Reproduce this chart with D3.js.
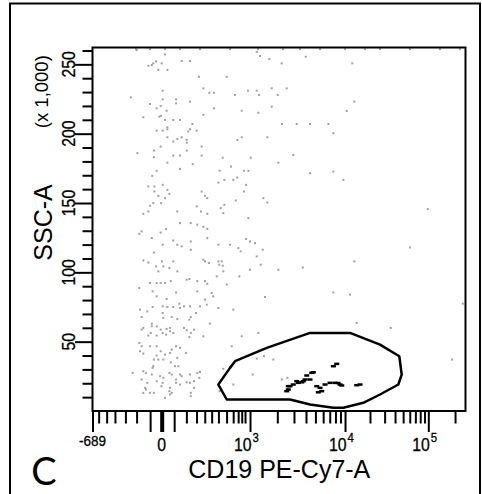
<!DOCTYPE html>
<html>
<head>
<meta charset="utf-8">
<script src="https://cdn.jsdelivr.net/npm/d3@7"></script>
<style>
  body { margin: 0; background: #fff; }
  svg { display: block; }
  text { font-family: "Liberation Sans", Arial, sans-serif; fill: #000; }
  .tick-label { stroke: #000; stroke-width: 0.3; }
</style>
</head>
<body>
<svg id="chart" width="482" height="494"></svg>
<script>
// ---- events: CD19 PE-Cy7-A (raw units) and SSC-A (x 1,000) ----
const eventsCd19 = [
  -129,12,-59,-42,-35,-23,0,-13,21,88,138,1191,1296,1640,2229,205,522,-174,3.5,3.5,
  59,59,138,242,300,351,664,948,1191,1264,1741,2021,2518,-51,-20,-4,18,-87,-9,-3,
  12,46,79,242,351,800,1241,1741,2245,-20,3.5,21,21,154,138,127,186,21,46,65,
  88,117,117,708,800,1560,-4,-32,-125,-32,46,79,117,227,227,21,79,157,463,1018,
  2051,-40,-20,420,486,592,633,708,852,956,899,852,404,-59,-30,3.5,21,29,-13,-30,
  -35,-51,12,-2,-87,-59,65,227,257,279,186,221,279,435,471,486,677,956,1410,1560,
  -112,-97,-42,-4,16,79,143,191,242,279,279,46,65,88,3.5,-32,143,143,404,575,
  728,778,899,1000,1140,1389,1191,-87,-59,-23,-13,1,5.6,29,46,65,242,257,297,404,
  449,416,463,471,384,522,749,1000,1320,2051,-112,-51,-20,-4,12,35,-38,-20,18,59,
  117,134,191,257,279,191,325,343,257,1472,-107,-97,-65,-38,3.5,21,46,75,79,101,
  138,181,213,274,404,633,3.5,39,65,5.6,143,134,-87,-97,-42,-42,-20,-4,18,32,
  32,3.5,-47,-59,-20,16,46,101,117,134,143,166,305,242,604,800,1241,-112,-97,-107,
  -87,-51,-20,-4,12,32,39,59,79,113,65,-20,-32,-13,5.6,35,54,70,-35,-38,
  -159,-87,-72,-42,-6,5.6,29,39,79,88,138,191,207,59,-20,3.5,-1,-97,-65,32,
  29,39,59,79,117,138,166,166,143,-32,-72,-87,-51,1073,2229,1812,1435,12,32,143,
  -77,12250,12960,10490,7620,7620,9620,4400,2950,3205,4400,6775,3975,98360,60400,12960,3700,7620,11500,13850,
  35500,185600,244500,633,1191,2555,420,471,213,
  -134,-51,12,79,213,575,1231,2300,3470,5575,10000,17400,26400,60400,135200,226300
];
const eventsSsc = [
  260.3,257.2,249,249.5,250.7,252.1,250.7,246,246,252.4,252.4,259,256,253.8,250.7,241,241,226.2,231,224.8,
  224.8,221.9,223.1,232.7,229.5,229.5,227.9,231,231,227.9,232.7,227.9,232.7,221.4,218.3,220,216.6,211.8,212.3,212.8,
  209.9,209.9,209.9,213.6,218.3,216.6,215.1,219.5,207,202.2,202.2,204.6,203.2,207,203.2,201.5,202.2,197.4,194.3,196.1,
  197.4,195.6,193.5,195.5,197.4,197.4,190.7,187.8,185.9,183,184.2,184.2,187.8,190.7,184.2,179.1,174.6,178,182.7,182.7,
  179.1,169.6,173.2,173.2,166.7,176.3,166.7,168.3,173.2,173.2,163.1,158.3,164.7,161.9,161.9,163.1,159.5,156.6,155.2,158.3,
  149.9,148,153.5,149.9,142.2,143.9,143.9,158.3,155.2,153.5,147.5,143.9,142.2,146.3,142.7,148.7,151.8,139.1,153.5,150.3,
  127.8,129.5,124.7,128.7,131.2,135.5,135.5,134.4,132.8,131.3,124.7,123,119.9,118.7,119.9,114.3,122.3,116.3,119.9,119.9,
  117.5,115.1,124,122.3,121.1,116.3,111.5,108.6,107.1,104.3,100.7,107.9,104.3,103.2,107.9,100.7,109.1,107.9,106.7,107.9,
  107.9,105.5,104.8,100.7,97.1,91.2,97.1,101.9,105.5,101.9,88.7,92.3,92.3,92.3,92.3,93.7,86.3,82.7,80.8,85.5,
  94.7,95.2,93.7,93.7,91.8,86.3,85.1,82.7,80.3,82.2,73.1,67.8,71.8,75,75.5,75,75,77.4,74.3,75.5,
  75.5,70.7,75.5,76.7,74.3,73.1,70.7,67.8,66.4,67.1,67.8,65.9,59.9,58.7,61.1,63,61.1,58.7,59.2,59.9,
  57.5,56.3,56.3,54.4,54.4,55.1,56.3,59.9,58.2,53.4,56.3,58.7,63,53.9,46.7,53.9,56.3,49.1,46.7,43.1,
  41.4,46.7,46.7,43.1,40.7,41.9,44.3,46.7,45.5,41.9,38.3,40,37.1,37.1,37.1,35.1,32.3,32.3,32.3,31.1,
  27.5,28.7,27.5,26.3,25.1,23.9,27.5,26.3,26.3,25.1,26.3,27.5,23.9,22.7,21.5,20.3,17.9,22.7,20.3,16.7,
  14.3,13.1,20.3,19.1,20.7,20.3,21.5,16.7,13.1,13.1,15.5,13.1,13.1,26.3,22.7,37.1,39.5,9.5,11.9,10.7,
  16.7,250.7,223.1,216.4,200.3,172.7,166.7,171.5,184.7,207,207,207,255.5,145.6,117.9,107.9,103.5,85.5,83.9,63.5,
  59.9,37.1,77.4,19.1,37.8,23.9,14.3,30.4,28.2,
  261,261,261,261,261,261,261,261,261,261,261,261,261,261,261,261
];

// ---- CD19+ events inside the gate (drawn black) ----
const gatedCd19 = [7620,8245,4583,4070,2728,2950,3336,3613,3909,2518,2617,5156,5575,6270,7050,7920,8900,9270,8500,5355,5800,13850,15180,4760,3205,3753,4400,2617];
const gatedSsc  = [32.3,34,27.5,25.6,17.9,19.1,20.3,20.7,22.7,14.3,15.5,17.9,16.7,19.1,20.3,20.3,19.1,18.4,20.2,13.5,14.3,18.6,19.1,27.9,21.5,21.5,22.7,17.9];

// ---- gate outline vertices ----
const gateCd19 = [404,522,2728,4400,7620,9620,16630,26400,43760,48050,44990,26400,11500,4400,1537,664,575];
const gateSsc  = [19.1,8.3,8.3,4.7,2.3,2.3,5.9,11.9,19.1,26.3,39.5,47.9,56.3,56.3,45.5,35.9,31.1];

// ---- axes ----
const xDomain = [-689, 262144];
const xAnchors = [0, 1000, 10000, 100000];
const xDecadeTicks = [1000, 10000, 100000];
const xDecadeExponents = ["3", "4", "5"];
const xLongTicks = [-689, -50, 50];
const xMinorTicks = [-570,-440,-330,-220,-130,115,185,255,325,405,520,630,725,800,875,
  2000,3000,4000,5000,6000,7000,8000,9000,20000,30000,40000,50000,60000,70000,80000,90000,200000];
const yDomain = [0, 262.144];
const yLabelTicks = [50, 100, 150, 200, 250];
const yMinorTicks = [10,20,30,40,60,70,80,90,110,120,130,140,160,170,180,190,210,220,230,240,260];

const W = 482, H = 494;
const plot = { left: 92.5, top: 47.5, right: 465.5, bottom: 411 };
const pw = plot.right - plot.left;

const svg = d3.select("#chart");
svg.append("rect").attr("width", W).attr("height", H).attr("fill", "#fff");

// panel frame
svg.append("rect")
  .attr("x", 10).attr("y", 3.5).attr("width", 470).attr("height", H + 10)
  .attr("fill", "none").attr("stroke", "#000").attr("stroke-width", 2);

// biexponential-style x scale: symlog, pinned at the zero and decade anchors
const x = d3.scaleSymlog().constant(150)
  .domain([xDomain[0], ...xAnchors, xDomain[1]])
  .range([0, 0.1855, 0.4223, 0.677, 0.9003, 1].map(f => plot.left + f * pw));
const y = d3.scaleLinear().domain(yDomain).range([plot.bottom, plot.top]);

svg.append("clipPath").attr("id", "plotClip")
  .append("rect").attr("x", plot.left).attr("y", plot.top)
  .attr("width", pw).attr("height", plot.bottom - plot.top);

const dots = svg.append("g").attr("clip-path", "url(#plotClip)");

dots.selectAll("rect.ev")
  .data(d3.range(eventsCd19.length))
  .join("rect").attr("class", "ev")
  .attr("x", i => x(eventsCd19[i]) - 1)
  .attr("y", i => y(eventsSsc[i]) - 1)
  .attr("width", 2).attr("height", 2)
  .attr("fill", "#a0a0a0");

// gate outline
const gateLine = d3.line()
  .x(i => x(gateCd19[i]))
  .y(i => y(gateSsc[i]))
  .curve(d3.curveLinearClosed);
dots.append("path")
  .attr("d", gateLine(d3.range(gateCd19.length)))
  .attr("fill", "none").attr("stroke", "#000")
  .attr("stroke-width", 2.5).attr("stroke-linejoin", "round");

dots.selectAll("rect.gated")
  .data(d3.range(gatedCd19.length))
  .join("rect").attr("class", "gated")
  .attr("x", i => x(gatedCd19[i]) - 2.5)
  .attr("y", i => y(gatedSsc[i]) - 1.25)
  .attr("width", 5).attr("height", 2.5)
  .attr("fill", "#000");

// plot frame
svg.append("rect")
  .attr("x", plot.left).attr("y", plot.top)
  .attr("width", pw).attr("height", plot.bottom - plot.top)
  .attr("fill", "none").attr("stroke", "#000").attr("stroke-width", 2);

// tick helpers
function xTicks(values, size, width) {
  const g = svg.append("g").attr("transform", `translate(0,${plot.bottom})`)
    .call(d3.axisBottom(x).tickValues(values).tickSize(size).tickSizeOuter(0).tickFormat(""));
  g.select(".domain").remove();
  g.selectAll("line").attr("stroke", "#000").attr("stroke-width", width);
  return g;
}
function yTicks(values, size, width) {
  const g = svg.append("g").attr("transform", `translate(${plot.left},0)`)
    .call(d3.axisLeft(y).tickValues(values).tickSize(size).tickSizeOuter(0).tickFormat(""));
  g.select(".domain").remove();
  g.selectAll("line").attr("stroke", "#000").attr("stroke-width", width);
  return g;
}

xTicks(xMinorTicks, 12.5, 2);
xTicks([...xLongTicks, ...xDecadeTicks], 21, 2);
xTicks([0], 21, 4);
yTicks(yMinorTicks, 10, 2);
yTicks(yLabelTicks, 17.5, 2);

// y tick labels (rotated)
svg.append("g").selectAll("text")
  .data(yLabelTicks).join("text")
  .attr("class", "tick-label")
  .attr("transform", d => `translate(75,${y(d)}) rotate(-90) scale(0.88,1)`)
  .attr("text-anchor", "middle")
  .attr("font-size", 18)
  .text(d => d);

// x tick labels: zero, decades as 10 with a raised exponent, and the axis minimum
const xl = svg.append("g");
xl.append("text")
  .attr("class", "tick-label")
  .attr("transform", `translate(${x(0)},451) scale(0.88,1)`)
  .attr("text-anchor", "middle").attr("font-size", 18).text("0");
xDecadeTicks.forEach((v, i) => {
  xl.append("text")
    .attr("class", "tick-label")
    .attr("transform", `translate(${x(v) + 1.5},451) scale(0.88,1)`)
    .attr("text-anchor", "end").attr("font-size", 18).text("10");
  xl.append("text")
    .attr("class", "tick-label")
    .attr("transform", `translate(${x(v) + 2.5},442) scale(0.88,1)`)
    .attr("text-anchor", "start").attr("font-size", 13).text(xDecadeExponents[i]);
});
xl.append("text")
  .attr("class", "tick-label")
  .attr("transform", `translate(${x(xDomain[0])},446) scale(0.9,1)`)
  .attr("text-anchor", "middle").attr("font-size", 15).text(String(xDomain[0]));

// axis titles
svg.append("text")
  .attr("x", 279.3).attr("y", 478)
  .attr("text-anchor", "middle").attr("font-size", 25)
  .text("CD19 PE-Cy7-A");
svg.append("text")
  .attr("transform", "translate(51.5,222.5) rotate(-90)")
  .attr("text-anchor", "middle").attr("font-size", 25)
  .text("SSC-A");
svg.append("text")
  .attr("transform", "translate(47.5,91.7) rotate(-90)")
  .attr("text-anchor", "middle").attr("font-size", 18.5)
  .text("(x 1,000)");

// panel letter
svg.append("text")
  .attr("x", 44).attr("y", 485)
  .attr("text-anchor", "middle")
  .style("font-family", "Lato, 'Open Sans', sans-serif")
  .attr("font-size", 38)
  .text("C");
</script>
</body>
</html>
